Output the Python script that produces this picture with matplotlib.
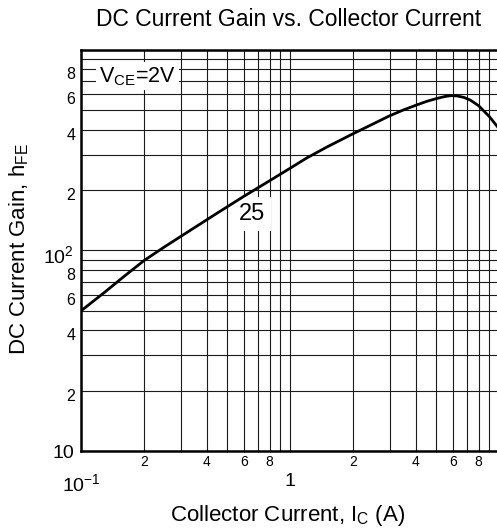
import matplotlib.pyplot as plt
import matplotlib.transforms as mtransforms

plt.rcParams['font.family'] = 'Liberation Sans'
plt.rcParams['mathtext.fontset'] = 'custom'
plt.rcParams['mathtext.rm'] = 'Liberation Sans'
plt.rcParams['mathtext.it'] = 'Liberation Sans'

# values (Ta = 25 C, VCE = 2 V)
ic = [0.1, 0.13, 0.16, 0.2, 0.25, 0.333, 0.45, 0.6, 0.8, 1.0, 1.2, 1.5, 2.0,
      2.5, 3.0, 3.5, 4.0, 4.5, 5.0, 5.5, 5.9, 6.3, 6.8, 7.3, 8.0, 9.0, 10.0]
hfe = [50, 62, 74, 89, 104, 126, 154, 186, 223, 257, 289, 328, 382,
       428, 470, 503, 530, 554, 572, 586, 592, 590, 580, 562, 527, 465, 405]

x_major = [0.1, 1, 10]
x_major_labels = ['$10^{-1}$', '1', '']
x_minor = [0.2, 0.3, 0.4, 0.5, 0.6, 0.7, 0.8, 0.9, 2, 3, 4, 5, 6, 7, 8, 9]
x_minor_labels = ['2', '', '4', '', '6', '', '8', '', '2', '', '4', '', '6', '', '8', '']
y_major = [10, 100, 1000]
y_major_labels = ['10', '$10^2$', '']
y_minor = [20, 30, 40, 50, 60, 70, 80, 90, 200, 300, 400, 500, 600, 700, 800, 900]
y_minor_labels = ['2', '', '4', '', '6', '', '8', '', '2', '', '4', '', '6', '', '8', '']

fig = plt.figure(figsize=(4.97, 5.32), dpi=100)
ax = fig.add_axes([81 / 497, 81 / 532, 418 / 497, 401 / 532])

ax.set_xscale('log')
ax.set_yscale('log')
ax.set_xlim(0.1, 10)
ax.set_ylim(10, 1000)

ax.plot(ic, hfe, color='black', linewidth=2.0, zorder=5)

ax.set_xticks(x_major, labels=x_major_labels)
ax.set_xticks(x_minor, labels=x_minor_labels, minor=True)
ax.set_yticks(y_major, labels=y_major_labels)
ax.set_yticks(y_minor, labels=y_minor_labels, minor=True)

ax.tick_params(which='both', length=0)
ax.tick_params(axis='x', which='major', labelsize=14, pad=16)
ax.tick_params(axis='x', which='minor', labelsize=10, pad=3)
ax.tick_params(axis='y', which='major', labelsize=14, pad=5)
ax.tick_params(axis='y', which='minor', labelsize=11.5, pad=4)

# the datasheet prints the y labels a little under their grid lines
shift = mtransforms.ScaledTranslation(0, -4 / 100, fig.dpi_scale_trans)
for lab in ax.get_yticklabels(which='minor'):
    lab.set_transform(lab.get_transform() + shift)
lab2 = ax.get_yticklabels()[1]
lab2.set_transform(lab2.get_transform() + shift)

ax.grid(True, which='both', color='#1a1a1a', linewidth=0.8)
ax.set_axisbelow(True)

for s in ['left', 'top', 'bottom']:
    ax.spines[s].set_linewidth(1.8)
ax.spines['right'].set_visible(False)

ax.text(0.186, 740, r'V$_{\rm CE}$=2V', fontsize=15.5, ha='center', va='center',
        bbox=dict(facecolor='white', edgecolor='none', pad=2), zorder=4)
ax.text(0.66, 152, '25', fontsize=17, ha='center', va='center',
        bbox=dict(facecolor='white', edgecolor='none', pad=4), zorder=4)

fig.text(289 / 497, 1 - 20 / 532, 'DC Current Gain vs. Collector Current',
         fontsize=16.5, ha='center', va='center')
fig.text(19 / 497, 1 - 249 / 532, r'DC Current Gain, h$_{\rm FE}$',
         fontsize=16, rotation=90, ha='center', va='center')
fig.text(288 / 497, 1 - 515 / 532, r'Collector Current, I$_{\rm C}$ (A)',
         fontsize=16, ha='center', va='center')

plt.savefig('out.png', dpi=100)
